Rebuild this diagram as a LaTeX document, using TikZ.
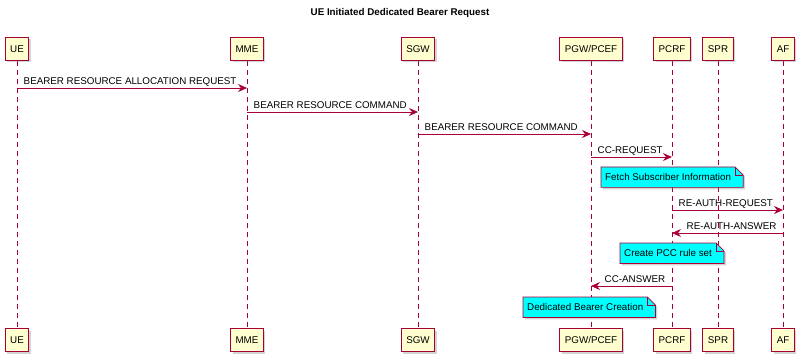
\documentclass[tikz,border=0pt]{standalone}
\usepackage{fontspec}
\setmainfont{Liberation Sans}
\usetikzlibrary{arrows.meta,shadows,backgrounds}
\definecolor{umlred}{HTML}{A80036}
\definecolor{boxfill}{HTML}{FEFECE}
\definecolor{notefill}{HTML}{00FFFF}

\begin{document}
\begin{tikzpicture}[x=1pt,y=-1pt,>={Stealth[length=9pt,width=8pt,inset=3pt]},
  every node/.style={font=\fontsize{9.8}{12}\selectfont},
  actor/.style={draw=umlred,fill=boxfill,line width=0.9pt,minimum height=23pt,inner xsep=5pt,
    drop shadow={shadow xshift=2pt,shadow yshift=-2pt,opacity=0.35}},
  life/.style={umlred,line width=0.7pt,dash pattern=on 5pt off 4pt},
  msg/.style={->,umlred,line width=0.8pt},
  lbl/.style={text=black,anchor=base west,yshift=3.5pt},
  note/.style={inner xsep=4pt,minimum height=20pt,anchor=north west},
  notebg/.style={draw=umlred,fill=notefill,line width=0.7pt,
    drop shadow={shadow xshift=2pt,shadow yshift=-2pt,opacity=0.35}}]
\useasboundingbox (0,0) rectangle (800,358);
\node[font=\bfseries\fontsize{9.8}{12}\selectfont] (title) at (400,13) {UE Initiated Dedicated Bearer Request};
% participants, top and bottom
\foreach \id/\name/\px in {ue/UE/17,mme/MME/247,sgw/SGW/418,pgw/{PGW/PCEF}/591,pcrf/PCRF/672,spr/SPR/718,af/AF/783}{
  \node[actor] (\id-top) at (\px,49) {\name};
  \node[actor] (\id-bot) at (\px,340) {\name};}
\begin{scope}[on background layer]
\foreach \id in {ue,mme,sgw,pgw,pcrf,spr,af}{
  \draw[life] (\id-top) -- (\id-bot);}
\end{scope}
% messages
\draw[msg] (ue-top |- 0,88) -- (mme-top |- 0,88)
  node[lbl,pos=0,xshift=3pt] (m1) {BEARER RESOURCE ALLOCATION REQUEST};
\draw[msg] (mme-top |- 0,112) -- (sgw-top |- 0,112)
  node[lbl,pos=0,xshift=3pt] (m2) {BEARER RESOURCE COMMAND};
\draw[msg] (sgw-top |- 0,134) -- (pgw-top |- 0,134)
  node[lbl,pos=0,xshift=3pt] (m3) {BEARER RESOURCE COMMAND};
\draw[msg] (pgw-top |- 0,157) -- (pcrf-top |- 0,157)
  node[lbl,pos=0,xshift=3pt] (m4) {CC-REQUEST};
\node[note] (fetch) at (601,167) {Fetch Subscriber Information};
\draw[msg] (pcrf-top |- 0,210) -- (af-top |- 0,210)
  node[lbl,pos=0,xshift=3pt] (m5) {RE-AUTH-REQUEST};
\draw[msg] (af-top |- 0,233) -- (pcrf-top |- 0,233)
  node[lbl,pos=1,xshift=11pt] (m6) {RE-AUTH-ANSWER};
\node[note] (pcc) at (620,243) {Create PCC rule set};
\draw[msg] (pcrf-top |- 0,286) -- (pgw-top |- 0,286)
  node[lbl,pos=1,xshift=10pt] (m7) {CC-ANSWER};
\node[note] (bearer) at (523,297) {Dedicated Bearer Creation};
% note shapes with folded corner
\begin{scope}[on background layer]
\foreach \n in {fetch,pcc,bearer}{
  \draw[notebg] (\n.south west) -- (\n.north west) -- (\n.north east)
    -- ([xshift=8pt,yshift=-8pt]\n.north east) -- ([xshift=8pt]\n.south east) -- cycle;
  \draw[umlred,line width=0.7pt] (\n.north east) -- ([yshift=-8pt]\n.north east)
    -- ([xshift=8pt,yshift=-8pt]\n.north east);}
\end{scope}
\end{tikzpicture}
\end{document}
